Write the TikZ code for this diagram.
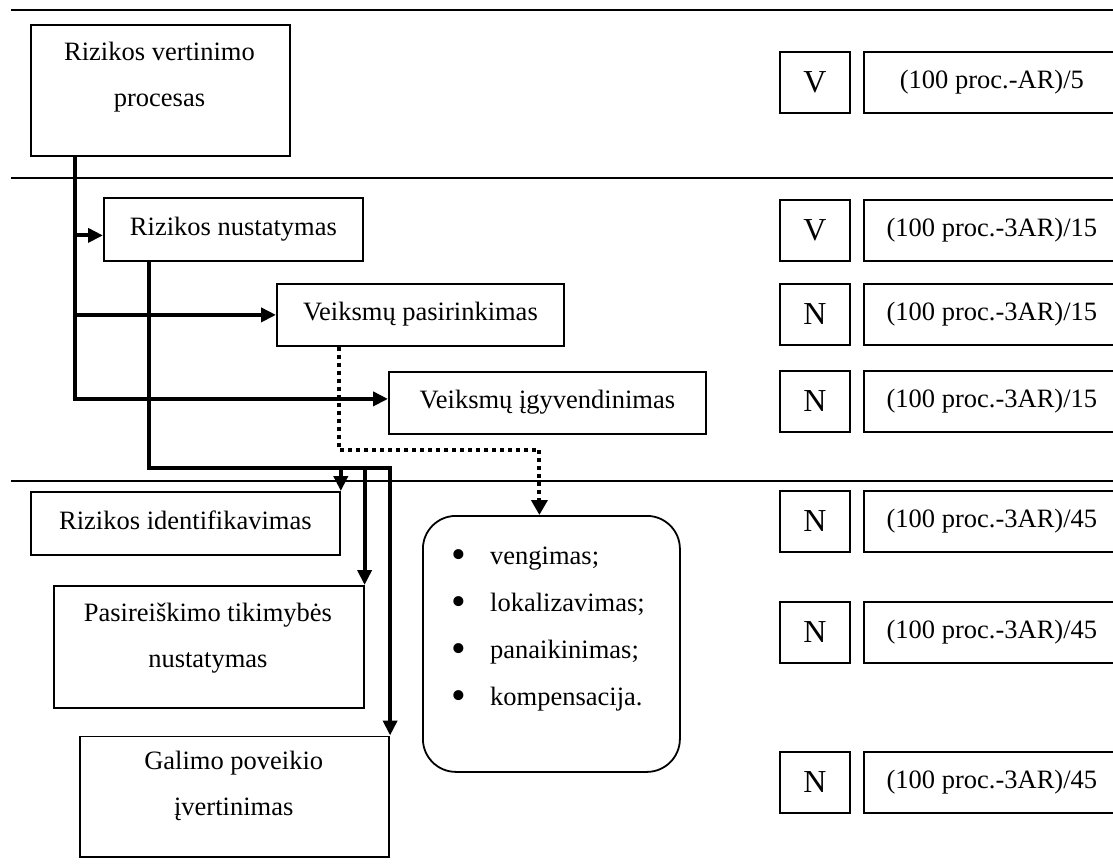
\documentclass[tikz,border=0pt]{standalone}
\usepackage{fontspec}
\setmainfont{Liberation Serif}
\usetikzlibrary{arrows.meta,calc}
\newcommand{\bul}{\makebox[39pt][l]{\raisebox{-4.5pt}{\fontsize{42}{42}\selectfont\textbullet}}}
\begin{document}
\begin{tikzpicture}[x=1pt,y=-1pt,
  box/.style={draw,line width=1.8pt,rectangle,inner sep=0pt,anchor=north west},
  onebox/.style={box,font=\fontsize{26.5}{30}\selectfont,text height=18pt,text depth=6pt},
  txt/.style={font=\fontsize{26.5}{46.5}\selectfont,inner sep=0pt,align=center},
  arr/.style={line width=4pt,-{Triangle[length=15pt,width=14pt]}},
  dots/.style={line width=4pt,dash pattern=on 4pt off 4pt,-{Triangle[length=15pt,width=16pt]}},
  rule/.style={line width=2pt}]
\useasboundingbox (0,0) rectangle (1113,866);
\clip (0,0) rectangle (1113,866);
\fill[white] (0,0) rectangle (1113,866);

% horizontal rules
\draw[rule] (11,10.5) -- (1113,10.5);
\draw[rule] (11,178) -- (1113,178);
\draw[rule] (11,481) -- (1113,481);

% left boxes
\node[box,minimum width=259pt,minimum height=131pt] (rvp) at (30,24) {};
\node[txt] (rvpt) at (159.5,77) {Rizikos vertinimo\\procesas};

\node[onebox,minimum width=259pt,minimum height=63pt] (rn) at (103,197) {Rizikos nustatymas};
\node[onebox,minimum width=287pt,minimum height=62pt] (vp) at (276,283) {Veiksmų pasirinkimas};
\node[onebox,minimum width=317pt,minimum height=62pt] (vi) at (388,371) {Veiksmų įgyvendinimas};
\node[onebox,minimum width=309pt,minimum height=63pt] (ri) at (30,491) {Rizikos identifikavimas};

\node[box,minimum width=309.5pt,minimum height=121.7pt] (pt) at (53.3,585) {};
\node[txt] (ptt) at (207.9,638) {Pasireiškimo tikimybės\\nustatymas};

\node[box,minimum width=309.3pt,minimum height=120.5pt] (gp) at (79,735.5) {};
\node[txt] (gpt) at (233.7,786) {Galimo poveikio\\įvertinimas};

% rounded list box
\node[box,rounded corners=33pt,minimum width=257pt,minimum height=256pt] (rb) at (422,515) {};
\node[txt,align=left,font=\fontsize{26.5}{47}\selectfont,anchor=west] (lst) at (451,629)
  {\bul vengimas;\\
   \bul lokalizavimas;\\
   \bul panaikinimas;\\
   \bul kompensacija.};

% right column
\foreach \n/\y/\l/\f in {1/51/V/{(100 proc.-AR)/5},
                         2/199/V/{(100 proc.-3AR)/15},
                         3/283/N/{(100 proc.-3AR)/15},
                         4/370/N/{(100 proc.-3AR)/15},
                         5/490/N/{(100 proc.-3AR)/45},
                         6/601/N/{(100 proc.-3AR)/45},
                         7/751/N/{(100 proc.-3AR)/45}}{
  \node[box,minimum width=70pt,minimum height=61pt,font=\fontsize{32}{38}\selectfont] (k\n) at (779,\y) {\l};
  \node[box,minimum width=256pt,minimum height=61pt,font=\fontsize{26.5}{30}\selectfont] (f\n) at (863,\y) {\f};
}

% connectors from main box
\coordinate (rvpo) at ($(rvp.south west)+(45,0)$);
\coordinate (rnin) at ([yshift=-6pt]rn.west);
\coordinate (viin) at ([yshift=4pt]vi.west);
\draw[arr] (rvpo) |- (viin);
\draw[arr] (rvpo |- rnin) -- (rnin);
\draw[arr] (rvpo |- vp.west) -- (vp.west);

% connectors from Rizikos nustatymas
\coordinate (rno) at ($(rn.south west)+(46,0)$);
\coordinate (jn) at ($(rno)+(0,206)$);
\draw[arr] (rno) -- (jn) -| (gp.north east);
\draw[arr] (jn -| ri.north east) -- (ri.north east);
\draw[arr] (jn -| pt.north east) -- (pt.north east);

% dotted connector
\coordinate (vpo) at ($(vp.south west)+(63,0)$);
\coordinate (dj) at ($(vpo)+(0,103)$);
\coordinate (rbin) at ($(rb.north)+(-12,0)$);
\draw[dots] (vpo) -- (dj) -| (rbin);
\end{tikzpicture}
\end{document}
